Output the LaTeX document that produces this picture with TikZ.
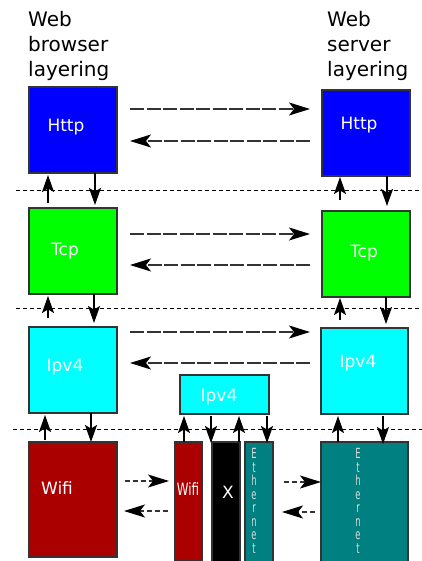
\documentclass[tikz,border=0pt]{standalone}
\usepackage{fontspec}
\usepackage{graphicx}
\setmainfont{DejaVu Sans}
\usetikzlibrary{arrows.meta,calc}
\definecolor{cblue}{HTML}{0000FF}
\definecolor{cgreen}{HTML}{00FF00}
\definecolor{ccyan}{HTML}{00FFFF}
\definecolor{cred}{HTML}{AA0000}
\definecolor{cteal}{HTML}{008080}
\definecolor{cedge}{HTML}{333333}
\definecolor{cline}{HTML}{333333}
\newcommand{\cnd}[1]{\scalebox{0.6}[1]{#1}}
\begin{document}
\begin{tikzpicture}[x=1pt,y=-1pt,
 box/.style={draw=cedge, line width=1.2pt, inner sep=0pt, outer sep=0pt, anchor=north west},
 lbl/.style={text=white, font=\fontsize{17}{20}\selectfont, inner sep=0pt},
 head/.style={font=\fontsize{20}{25}\selectfont, inner sep=0pt, align=left, anchor=north west},
 harrow/.style={draw=cline, line width=1.2pt, dash pattern=on 14pt off 2.5pt, -{Stealth[length=21pt,width=13pt,inset=5pt,black]}},
 varrow/.style={line width=1.2pt, -{Stealth[length=17pt,width=12pt,inset=3.5pt]}},
 sarrow/.style={draw=cline, line width=1.1pt, dash pattern=on 5pt off 3pt, -{Stealth[length=21pt,width=13pt,inset=5pt,black]}},
 sepline/.style={line width=0.9pt, dash pattern=on 4pt off 3pt},
 eth/.style={text=white!85!black, font=\fontsize{14}{13.5}\selectfont, inner sep=0pt, align=center}
]
\useasboundingbox (0,0) rectangle (422,561);

% headings
\node[head] (hl) at (28,11) {Web\\browser\\layering};
\node[head] (hr) at (327,11) {Web\\server\\layering};

% boxes
\node[box, fill=cblue, minimum width=88pt, minimum height=86pt] (httpL) at (29,87) {};
\node[box, fill=cblue, minimum width=88pt, minimum height=86pt] (httpR) at (322,90) {};
\node[box, fill=cgreen, minimum width=88pt, minimum height=86pt] (tcpL) at (29,208) {};
\node[box, fill=cgreen, minimum width=88pt, minimum height=86pt] (tcpR) at (322,211) {};
\node[box, fill=ccyan, minimum width=88pt, minimum height=86pt] (ipL) at (29,327) {};
\node[box, fill=ccyan, minimum width=87pt, minimum height=86pt] (ipR) at (321,328) {};
\node[box, fill=ccyan, minimum width=89pt, minimum height=39pt] (ipM) at (180,375) {};
\node[box, fill=cred, minimum width=88pt, minimum height=115pt] (wifiL) at (29,442) {};
\node[box, fill=cteal, minimum width=87pt, minimum height=122pt] (ethR) at (321,442) {};
\node[box, fill=cred, minimum width=27pt, minimum height=118pt] (wifiS) at (175,442) {};
\node[box, fill=black, minimum width=28pt, minimum height=122pt] (xS) at (212,442) {};
\node[box, fill=cteal, minimum width=28pt, minimum height=122pt] (ethS) at (245,442) {};

% labels
\node[lbl] (tHttpL) at (66,127) {Http};
\node[lbl] (tHttpR) at (359,125) {Http};
\node[lbl] (tTcpL) at (65,251) {Tcp};
\node[lbl] (tTcpR) at (364,253) {Tcp};
\node[lbl] (tIpL) at (65,367) {Ipv4};
\node[lbl] (tIpR) at (358,363) {Ipv4};
\node[lbl] (tIpM) at (219,397) {Ipv4};
\node[lbl] (tWifiL) at (57,488) {Wifi};
\node[lbl] (tWifiS) at (188,489) {\scalebox{0.7}[1]{Wifi}};
\node[lbl] (tX) at (228,492) {X};
\node[eth] (tEthS) at (254,501) {\cnd{E}\\\cnd{t}\\\cnd{h}\\\cnd{e}\\\cnd{r}\\\cnd{n}\\\cnd{e}\\\cnd{t}};
\node[eth] (tEthR) at (358,501) {\cnd{E}\\\cnd{t}\\\cnd{h}\\\cnd{e}\\\cnd{r}\\\cnd{n}\\\cnd{e}\\\cnd{t}};

% separators
\coordinate (s1a) at (16,190); \coordinate (s1b) at (420,190);
\coordinate (s2a) at (16,308); \coordinate (s2b) at (420,308);
\coordinate (s3a) at (13,429); \coordinate (s3b) at (422,429);
\draw[sepline] (s1a) -- (s1b);
\draw[sepline] (s2a) -- (s2b);
\draw[sepline] (s3a) -- (s3b);

% horizontal peer arrows
\coordinate (a1) at (130,109); \coordinate (b1) at (310,109);
\coordinate (a2) at (310,141); \coordinate (b2) at (130,141);
\coordinate (a3) at (130,234); \coordinate (b3) at (310,234);
\coordinate (a4) at (310,265); \coordinate (b4) at (130,265);
\coordinate (a5) at (130,332); \coordinate (b5) at (310,332);
\coordinate (a6) at (310,363); \coordinate (b6) at (130,363);
\draw[harrow] (a1) -- (b1);
\draw[harrow] (a2) -- (b2);
\draw[harrow] (a3) -- (b3);
\draw[harrow] (a4) -- (b4);
\draw[harrow] (a5) -- (b5);
\draw[harrow] (a6) -- (b6);

% link arrows
\coordinate (c1) at (125,481); \coordinate (d1) at (169,481);
\coordinate (c2) at (168,511); \coordinate (d2) at (124,511);
\coordinate (c3) at (284,482); \coordinate (d3) at (321,482);
\coordinate (c4) at (315,512); \coordinate (d4) at (282,512);
\draw[sarrow] (c1) -- (d1);
\draw[sarrow] (c2) -- (d2);
\draw[sarrow] (c3) -- (d3);
\draw[sarrow] (c4) -- (d4);

% vertical arrows: Http <-> Tcp
\draw[varrow] ($(httpL.south west)+(19,30)$) -- ($(httpL.south west)+(19,2)$);
\draw[varrow] ($(httpL.south west)+(66,0)$) -- ($(tcpL.north west)+(66,-3)$);
\draw[varrow] ($(httpR.south west)+(18,24)$) -- ($(httpR.south west)+(18,1)$);
\draw[varrow] ($(httpR.south west)+(65,0)$) -- ($(tcpR.north west)+(65,-5)$);
% Tcp <-> Ipv4
\draw[varrow] ($(tcpL.south west)+(19,24)$) -- ($(tcpL.south west)+(19,2)$);
\draw[varrow] ($(tcpL.south west)+(65,0)$) -- ($(ipL.north west)+(65,-4)$);
\draw[varrow] ($(tcpR.south west)+(18,23)$) -- ($(tcpR.south west)+(18,1)$);
\draw[varrow] ($(tcpR.south west)+(64,0)$) -- ($(ipR.north west)+(65,-4)$);
% Ipv4 <-> link
\draw[varrow] ($(wifiL.north west)+(16,-2)$) -- ($(ipL.south west)+(16,2)$);
\draw[varrow] ($(ipL.south west)+(62,0)$) -- ($(wifiL.north west)+(62,0)$);
\draw[varrow] ($(wifiS.north west)+(9,0)$) -- ($(ipM.south west)+(4,2)$);
\draw[varrow] ($(ipM.south west)+(31,2)$) -- ($(xS.north west)+(-1,1)$);
\draw[varrow] ($(xS.north west)+(27,0)$) -- ($(ipM.south west)+(59,2)$);
\draw[varrow] ($(ipM.south west)+(87,2)$) -- ($(ethS.north west)+(22,1)$);
\draw[varrow] ($(ethR.north west)+(17,0)$) -- ($(ipR.south west)+(17,2)$);
\draw[varrow] ($(ipR.south west)+(62,2)$) -- ($(ethR.north west)+(62,2)$);
\end{tikzpicture}
\end{document}
